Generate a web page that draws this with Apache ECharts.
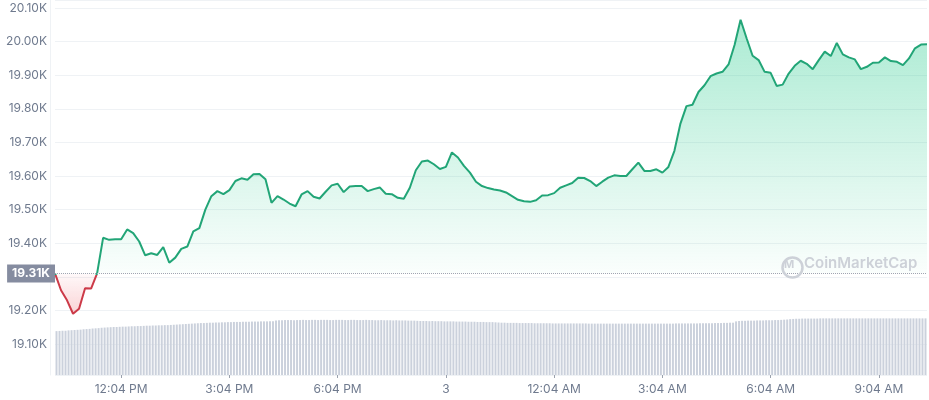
<!DOCTYPE html>
<html><head><meta charset="utf-8">
<script src="https://cdn.jsdelivr.net/npm/echarts@6/dist/echarts.min.js"></script>
<style>html,body{margin:0;padding:0;background:#fff}#c{width:929px;height:400px}</style>
</head><body><div id="c"></div>
<script>
// ---- data ----
const startMinutes = 10 * 60 + 14;   // first point 10:14 AM
const priceStep = 10;                // minutes between price points
const volumeStep = 5;                // minutes between volume bars

const prices = [
  19.31,19.26,19.23,19.19,19.205,19.266,19.265,19.31,19.416,19.41,
  19.412,19.412,19.441,19.43,19.405,19.364,19.37,19.365,19.388,19.342,
  19.357,19.383,19.39,19.435,19.445,19.50,19.54,19.555,19.546,19.558,
  19.585,19.593,19.589,19.605,19.606,19.59,19.52,19.54,19.53,19.518,
  19.51,19.545,19.555,19.538,19.533,19.553,19.572,19.577,19.552,19.569,
  19.57,19.57,19.555,19.561,19.566,19.547,19.546,19.535,19.532,19.565,
  19.617,19.643,19.646,19.635,19.621,19.627,19.67,19.655,19.63,19.61,
  19.583,19.57,19.564,19.56,19.557,19.551,19.54,19.529,19.525,19.523,
  19.528,19.542,19.543,19.549,19.565,19.572,19.579,19.595,19.594,19.585,
  19.57,19.583,19.595,19.602,19.60,19.60,19.62,19.64,19.615,19.615,
  19.62,19.61,19.627,19.675,19.756,19.808,19.812,19.85,19.87,19.897,
  19.905,19.91,19.932,19.99,20.065,20.01,19.958,19.945,19.91,19.907,
  19.868,19.872,19.905,19.928,19.943,19.934,19.918,19.945,19.97,19.957,
  19.996,19.962,19.953,19.947,19.918,19.925,19.937,19.938,19.953,19.942,
  19.94,19.93,19.95,19.98,19.991,19.992
];

const volumes = [
  23.4,23.5,23.6,23.6,23.8,23.9,24.0,24.1,24.2,24.4,
  24.5,24.6,24.8,24.9,25.0,25.2,25.3,25.4,25.5,25.6,
  25.6,25.7,25.8,25.8,25.9,26.0,26.0,26.1,26.1,26.2,
  26.3,26.3,26.4,26.4,26.5,26.5,26.6,26.6,26.7,26.8,
  26.9,27.0,27.1,27.2,27.3,27.4,27.5,27.6,27.7,27.7,
  27.8,27.9,27.9,28.0,28.0,28.1,28.1,28.2,28.2,28.3,
  28.3,28.3,28.4,28.4,28.4,28.5,28.5,28.5,28.6,28.6,
  28.6,28.7,28.7,29.1,29.2,29.2,29.3,29.3,29.3,29.2,
  29.3,29.3,29.4,29.3,29.3,29.4,29.4,29.3,29.4,29.4,
  29.4,29.3,29.3,29.4,29.4,29.4,29.3,29.3,29.4,29.4,
  29.3,29.3,29.3,29.4,29.3,29.3,29.2,29.2,29.3,29.2,
  29.2,29.2,29.1,29.2,29.1,29.1,29.1,29.0,29.0,29.0,
  28.9,28.8,28.8,28.8,28.7,28.8,28.7,28.7,28.7,28.6,
  28.6,28.6,28.6,28.5,28.5,28.5,28.5,28.4,28.4,28.4,
  28.3,28.3,28.3,28.2,28.2,28.2,28.1,28.0,27.9,27.9,
  27.8,27.8,27.8,27.8,27.7,27.7,27.7,27.7,27.7,27.6,
  27.6,27.6,27.6,27.6,27.6,27.5,27.5,27.5,27.5,27.5,
  27.5,27.5,27.5,27.5,27.5,27.5,27.5,27.4,27.4,27.4,
  27.4,27.4,27.4,27.4,27.4,27.4,27.4,27.4,27.4,27.4,
  27.4,27.4,27.4,27.4,27.4,27.4,27.4,27.4,27.4,27.4,
  27.4,27.4,27.4,27.4,27.4,27.4,27.5,27.5,27.5,27.5,
  27.5,27.5,27.5,27.5,27.6,27.6,27.6,27.6,27.6,27.7,
  27.7,27.7,27.8,27.8,27.9,27.9,28.6,28.8,28.9,28.9,
  29.0,29.0,29.0,29.1,29.1,29.1,29.2,29.2,29.2,29.3,
  29.3,29.4,29.5,29.6,29.8,29.9,30.0,30.0,30.1,30.1,
  30.1,30.1,30.1,30.1,30.2,30.2,30.2,30.2,30.2,30.2,
  30.2,30.2,30.2,30.2,30.2,30.2,30.2,30.2,30.2,30.2,
  30.2,30.2,30.2,30.2,30.2,30.2,30.2,30.2,30.2,30.2,
  30.2,30.2,30.2,30.2,30.2,30.2,30.2,30.2,30.2,30.2
];

const tickTimes  = ['12:04 PM','3:04 PM','6:04 PM','9:04 PM','12:04 AM','3:04 AM','6:04 AM','9:04 AM'];
const tickLabels = ['12:04 PM','3:04 PM','6:04 PM','3','12:04 AM','3:04 AM','6:04 AM','9:04 AM'];
const openPrice = 19.31;
const yMin = 19.0077, yMax = 20.1238;

// ---- helpers ----
function fmtTime(m) {
  m = m % 1440;
  const h24 = Math.floor(m / 60), mm = m % 60;
  const ap = h24 >= 12 ? 'PM' : 'AM';
  let h = h24 % 12; if (h === 0) h = 12;
  return h + ':' + (mm < 10 ? '0' : '') + mm + ' ' + ap;
}
const times = prices.map((_, i) => fmtTime(startMinutes + i * priceStep));
const volTimes = volumes.map((_, i) => fmtTime(startMinutes + i * volumeStep));

const maxV = Math.max(...prices), minV = Math.min(...prices);
const f = (maxV - openPrice) / (maxV - minV);
const G = echarts.graphic.LinearGradient;
const lineGrad = new G(0, 0, 0, 1, [
  {offset: 0, color: '#22a577'}, {offset: f, color: '#22a577'},
  {offset: f, color: '#cc3a48'}, {offset: 1, color: '#cc3a48'}
]);
const areaGrad = new G(0, 0, 0, 1, [
  {offset: 0, color: 'rgba(22,199,132,0.36)'},
  {offset: f, color: 'rgba(22,199,132,0.02)'},
  {offset: f, color: 'rgba(234,57,67,0.03)'},
  {offset: 1, color: 'rgba(234,57,67,0.22)'}
]);

const isTick = (idx, val) => tickTimes.indexOf(val) >= 0;
const textColor = '#6f7a8e';
const font = 'Inter, "Noto Sans", sans-serif';

const chart = echarts.init(document.getElementById('c'), null, {renderer: 'canvas'});
chart.setOption({
  animation: false,
  grid: {left: 55, right: 2, top: 0, bottom: 25},
  xAxis: [
    {
      type: 'category', data: times, boundaryGap: false,
      axisLine: {show: false},
      axisTick: {show: true, interval: isTick, length: 3, lineStyle: {color: '#9aa1ad'}},
      axisLabel: {interval: isTick, formatter: v => tickLabels[tickTimes.indexOf(v)],
        color: textColor, fontSize: 12, margin: 8, fontFamily: font},
      splitLine: {show: false}
    },
    {type: 'category', data: volTimes, boundaryGap: true, show: false}
  ],
  yAxis: [
    {
      type: 'value', min: yMin, max: yMax, splitNumber: 11, offset: 5,
      axisLine: {show: true, lineStyle: {color: '#eff2f5'}},
      axisTick: {show: false},
      axisLabel: {margin: 3, showMinLabel: false, showMaxLabel: false,
        formatter: v => v.toFixed(2) + 'K', color: textColor, fontSize: 12, fontFamily: font},
      splitLine: {lineStyle: {color: '#eff2f5', width: 1}}
    },
    {type: 'value', min: 0, max: 200, show: false, splitLine: {show: false}}
  ],
  series: [
    {
      type: 'bar', xAxisIndex: 1, yAxisIndex: 1, data: volumes, barWidth: '66%',
      itemStyle: {color: '#cbd1dc'}, silent: true, z: 1
    },
    {
      type: 'line', data: prices, showSymbol: false, symbol: 'none', z: 3,
      lineStyle: {width: 2, color: lineGrad},
      itemStyle: {color: '#22a577'},
      areaStyle: {origin: openPrice, color: areaGrad, opacity: 1},
      markLine: {
        silent: true, symbol: 'none', animation: false,
        lineStyle: {type: 'dotted', color: '#9fa6b2', width: 1},
        label: {position: 'start', distance: 0, formatter: openPrice.toFixed(2) + 'K',
          color: '#fff', backgroundColor: '#858ca0', padding: [3, 5, 3, 5],
          fontSize: 12, fontWeight: 'bold', fontFamily: font},
        data: [{yAxis: openPrice}]
      }
    }
  ],
  graphic: [
    {type: 'circle', left: 780, top: 255, shape: {r: 10}, silent: true, z: 10,
     style: {fill: 'none', stroke: '#cdd1d8', lineWidth: 2.5}},
    {type: 'text', left: 784, top: 259, silent: true, z: 10,
     style: {text: 'M', fill: '#cdd1d8', font: 'bold 11px Inter, sans-serif'}},
    {type: 'text', left: 804, top: 256, silent: true, z: 10,
     style: {text: 'CoinMarketCap', fill: '#cdd1d8', font: '600 15px Inter, sans-serif'}}
  ]
});
</script>
</body></html>
